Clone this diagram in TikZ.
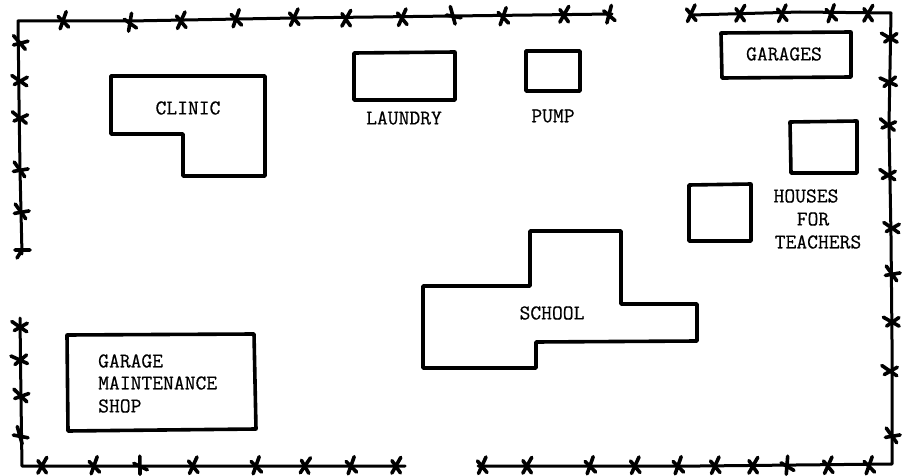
\documentclass[tikz,border=0pt]{standalone}
\usepackage{fontspec}
\newfontfamily\typewr{Latin Modern Mono}[RawFeature={embolden=0.6}]
\tikzset{
  fence/.style={line width=3pt,line join=round,line cap=round,black},
  bldg/.style={line width=3.6pt,line join=round,black},
  barb/.style={line width=3.6pt,line cap=round,black},
  lbl/.style={inner sep=0pt,font=\typewr\fontsize{21}{23}\selectfont,text=black},
  lblw/.style={lbl,anchor=west},
}
\newcommand\barbmark[3]{\draw[barb,shift={(#1,#2)},rotate=#3] (-3.5,7.5)--(4,-9) (-4.5,-5)--(5,6.5);}
\begin{document}
\begin{tikzpicture}[x=1pt,y=-1pt]
\useasboundingbox (0,0) rectangle (906,476);
\fill[white] (0,0) rectangle (906,476);
% fence lines
\draw[fence] (22,254) -- (20,170) -- (19,100) -- (18,21) -- (130,21) -- (294,18) -- (453,16) -- (612,14);
\draw[fence] (20,318) -- (21,400) -- (22,466) -- (405,466);
\draw[fence] (692,15) -- (800,12) -- (891,13) -- (889,125) -- (891,236) -- (892,340) -- (892,464) -- (700,466) -- (478,466);
% barbs: top-left
\foreach \x/\y/\r in {63/21/5,130/23/15,181/21/0,236/19/5,294/18/0,346/19/-5,402/18/0,453/16/40,503/17/5,564/15/-5,609/15/10}{\barbmark{\x}{\y}{\r}}
% left
\foreach \x/\y/\r in {20/43/65,20/81/80,20/118/75,20/170/60,21/212/60}{\barbmark{\x}{\y}{\r}}
\draw[barb] (15,250)--(30,250) (22,250)--(17,258);
% left lower
\foreach \x/\y/\r in {20/327/80,20/360/90,21/396/70,20/436/40}{\barbmark{\x}{\y}{\r}}
% bottom-left
\foreach \x/\y/\r in {42/466/-5,94/466/5,140/466/25,193/466/0,256/466/5,305/466/-10,351/466/5,396/466/-5}{\barbmark{\x}{\y}{\r}}
% top right
\foreach \x/\y/\r in {691/14/0,740/14/-5,782/14/0,831/14/5,868/14/-5}{\barbmark{\x}{\y}{\r}}
% right
\foreach \x/\y/\r in {890/38/85,889/82/90,888/125/75,888/175/80,892/228/80,892/274/60,892/322/85,890/371/80,892/436/60}{\barbmark{\x}{\y}{\r}}
% bottom right
\foreach \x/\y/\r in {482/466/0,527/466/-5,590/466/5,635/466/0,678/466/5,715/466/0,753/466/-5,787/466/20,828/466/0,869/466/5}{\barbmark{\x}{\y}{\r}}
% buildings
\draw[bldg] (111,76) -- (265,76) -- (265,176) -- (183,176) -- (183,134) -- (111,134) -- cycle;
\draw[bldg] (354,53) -- (455,52) -- (455,100) -- (354,100) -- cycle;
\draw[bldg] (526,51) -- (580,51) -- (580,91) -- (526,91) -- cycle;
\draw[bldg] (721,33) -- (851,32) -- (851,77) -- (722,78) -- cycle;
\draw[bldg] (790,122) -- (857,121) -- (857,173) -- (791,173) -- cycle;
\draw[bldg] (689,185) -- (751,184) -- (751,241) -- (689,241) -- cycle;
\draw[bldg] (530,231) -- (621,231) -- (621,304) -- (697,304) -- (697,341) -- (536,342) -- (536,368) -- (423,368) -- (423,286) -- (530,286) -- cycle;
\draw[bldg] (67,335) -- (254,334) -- (256,429) -- (68,431) -- cycle;
% labels
\node[lbl] (clinic) at (188,108) {CLINIC};
\node[lbl] (laundry) at (404,118) {LAUNDRY};
\node[lbl] (pump) at (553,116) {PUMP};
\node[lbl] (garages) at (784,54) {GARAGES};
\node[lbl] (houses) at (806,196) {HOUSES};
\node[lbl] (for) at (813,219) {FOR};
\node[lbl] (teachers) at (818,242) {TEACHERS};
\node[lbl] (school) at (552,313) {SCHOOL};
\node[lblw] (garage) at (98,361) {GARAGE};
\node[lblw] (maint) at (98,383) {MAINTENANCE};
\node[lblw] (shop) at (98,406) {SHOP};
\end{tikzpicture}
\end{document}
